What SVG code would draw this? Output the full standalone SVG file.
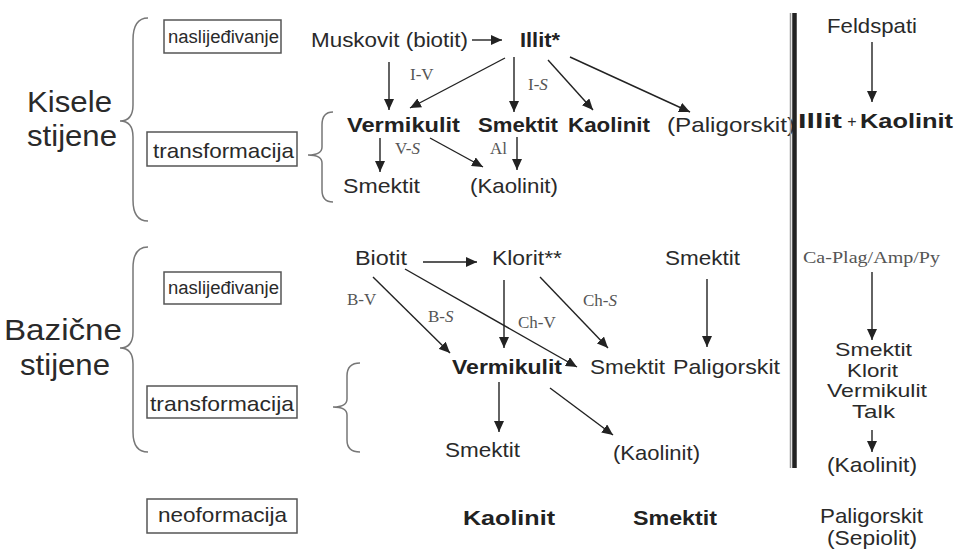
<svg xmlns="http://www.w3.org/2000/svg" width="955" height="551" viewBox="0 0 955 551">
<defs>
<marker id="ah" markerUnits="userSpaceOnUse" markerWidth="11" markerHeight="10" refX="11" refY="5" orient="auto">
<path d="M0,0 L11,5 L0,10 z" fill="#222"/>
</marker>
<style>
.s{font-family:"Liberation Sans",Arial,sans-serif;fill:#2a2a2a}
.b{font-family:"Liberation Sans",Arial,sans-serif;font-weight:bold;fill:#222}
.r{font-family:"Liberation Serif","Times New Roman",serif;fill:#555;font-size:17px}
.big{font-size:29px}
.m{font-size:21px}
.st{font-size:19px}
.box{fill:none;stroke:#555;stroke-width:1.5}
.br{fill:none;stroke:#777;stroke-width:1.5}
.c line{stroke:#222;stroke-width:1.4;marker-end:url(#ah)}
</style>
</defs>
<rect width="955" height="551" fill="#fff"/>

<g id="left-labels">
<text class="s big" x="27" y="112" textLength="85" lengthAdjust="spacingAndGlyphs">Kisele</text>
<text class="s big" x="27" y="146" textLength="90" lengthAdjust="spacingAndGlyphs">stijene</text>
<text class="s big" x="4" y="340" textLength="118" lengthAdjust="spacingAndGlyphs">Bazične</text>
<text class="s big" x="20" y="375" textLength="90" lengthAdjust="spacingAndGlyphs">stijene</text>
<path class="br" d="M148,18 Q133,18 133,40 L133,105 Q133,121 120,121 Q133,121 133,137 L133,200 Q133,221 148,221"/>
<path class="br" d="M148,247 Q133,247 133,268 L133,332 Q133,348 120,348 Q133,348 133,364 L133,432 Q133,452 148,452"/>
<path class="br" d="M333,112 Q322,112 322,125 L322,147 Q322,155 308,155 Q322,155 322,163 L322,190 Q322,202 333,202"/>
<path class="br" d="M360,363 Q347,363 347,376 L347,399 Q347,407 333,407 Q347,407 347,415 L347,440 Q347,452 360,452"/>
</g>

<g id="box-nasl1">
<rect class="box" x="164" y="20" width="117" height="33"/>
<text class="s" font-size="18" x="168" y="43" textLength="111" lengthAdjust="spacingAndGlyphs">naslijeđivanje</text>
</g>
<g id="box-trans1">
<rect class="box" x="147" y="132" width="150" height="34"/>
<text class="s" font-size="21" x="153" y="158" textLength="141" lengthAdjust="spacingAndGlyphs">transformacija</text>
</g>
<g id="box-nasl2">
<rect class="box" x="164" y="272" width="117" height="32"/>
<text class="s" font-size="18" x="168" y="294" textLength="111" lengthAdjust="spacingAndGlyphs">naslijeđivanje</text>
</g>
<g id="box-trans2">
<rect class="box" x="147" y="386" width="150" height="32"/>
<text class="s" font-size="21" x="150" y="411" textLength="144" lengthAdjust="spacingAndGlyphs">transformacija</text>
</g>
<g id="box-neo">
<rect class="box" x="147" y="499" width="150" height="34"/>
<text class="s" font-size="21" x="158" y="522" textLength="129" lengthAdjust="spacingAndGlyphs">neoformacija</text>
</g>

<g id="kisele-nodes">
<text class="s m" x="311" y="47" textLength="157" lengthAdjust="spacingAndGlyphs">Muskovit (biotit)</text>
<text class="b m" x="520" y="47" textLength="40" lengthAdjust="spacingAndGlyphs">Illit*</text>
<text class="b m" x="347" y="132" textLength="113" lengthAdjust="spacingAndGlyphs">Vermikulit</text>
<text class="b m" x="478" y="132" textLength="80" lengthAdjust="spacingAndGlyphs">Smektit</text>
<text class="b m" x="568" y="132" textLength="82" lengthAdjust="spacingAndGlyphs">Kaolinit</text>
<text class="s m" x="667" y="132" textLength="128" lengthAdjust="spacingAndGlyphs">(Paligorskit)</text>
<text class="s m" x="343" y="193" textLength="77" lengthAdjust="spacingAndGlyphs">Smektit</text>
<text class="s m" x="470" y="193" textLength="88" lengthAdjust="spacingAndGlyphs">(Kaolinit)</text>
<text class="r" x="410" y="80">I-V</text>
<text class="r" x="528" y="90">I-<tspan font-style="italic">S</tspan></text>
<text class="r" x="395" y="154">V-<tspan font-style="italic">S</tspan></text>
<text class="r" x="490" y="154">Al</text>
</g>

<g id="bazicne-nodes">
<text class="s m" x="355" y="265" textLength="52" lengthAdjust="spacingAndGlyphs">Biotit</text>
<text class="s m" x="492" y="265" textLength="70" lengthAdjust="spacingAndGlyphs">Klorit**</text>
<text class="s m" x="665" y="265" textLength="75" lengthAdjust="spacingAndGlyphs">Smektit</text>
<text class="b m" x="452" y="374" textLength="110" lengthAdjust="spacingAndGlyphs">Vermikulit</text>
<text class="s m" x="590" y="374" textLength="75" lengthAdjust="spacingAndGlyphs">Smektit</text>
<text class="s m" x="673" y="374" textLength="107" lengthAdjust="spacingAndGlyphs">Paligorskit</text>
<text class="s m" x="445" y="457" textLength="75" lengthAdjust="spacingAndGlyphs">Smektit</text>
<text class="s m" x="613" y="460" textLength="87" lengthAdjust="spacingAndGlyphs">(Kaolinit)</text>
<text class="r" x="347" y="305">B-V</text>
<text class="r" x="428" y="322">B-<tspan font-style="italic">S</tspan></text>
<text class="r" x="518" y="328">Ch-V</text>
<text class="r" x="583" y="306">Ch-<tspan font-style="italic">S</tspan></text>
</g>

<g id="neo-nodes">
<text class="b m" x="463" y="525" textLength="92" lengthAdjust="spacingAndGlyphs">Kaolinit</text>
<text class="b m" x="633" y="525" textLength="84" lengthAdjust="spacingAndGlyphs">Smektit</text>
</g>

<g id="right-column">
<line x1="790.5" y1="13" x2="790.5" y2="468" stroke="#999" stroke-width="1.5"/>
<line x1="794.5" y1="13" x2="794.5" y2="468" stroke="#222" stroke-width="4.5"/>
<text class="s m" x="827" y="33" textLength="90" lengthAdjust="spacingAndGlyphs">Feldspati</text>
<text class="b m" x="798" y="128" textLength="44" lengthAdjust="spacingAndGlyphs">Illit</text>
<text class="s" font-size="16" x="852" y="127" text-anchor="middle">+</text>
<text class="b m" x="860" y="128" textLength="93" lengthAdjust="spacingAndGlyphs">Kaolinit</text>
<text class="r" x="803" y="263" textLength="137" lengthAdjust="spacingAndGlyphs">Ca-Plag/Amp/Py</text>
<text class="s st" x="835" y="356" textLength="77" lengthAdjust="spacingAndGlyphs">Smektit</text>
<text class="s st" x="847" y="377" textLength="51" lengthAdjust="spacingAndGlyphs">Klorit</text>
<text class="s st" x="827" y="397" textLength="100" lengthAdjust="spacingAndGlyphs">Vermikulit</text>
<text class="s st" x="852" y="418" textLength="43" lengthAdjust="spacingAndGlyphs">Talk</text>
<text class="s m" x="827" y="472" textLength="90" lengthAdjust="spacingAndGlyphs">(Kaolinit)</text>
<text class="s m" x="820" y="523" textLength="103" lengthAdjust="spacingAndGlyphs">Paligorskit</text>
<text class="s m" x="827" y="545" textLength="90" lengthAdjust="spacingAndGlyphs">(Sepiolit)</text>
</g>

<g id="connectors" class="c">
<line x1="472" y1="40" x2="502" y2="40"/>
<line x1="389" y1="62" x2="389" y2="110"/>
<line x1="505" y1="58" x2="410" y2="108"/>
<line x1="514" y1="57" x2="514" y2="112"/>
<line x1="548" y1="60" x2="593" y2="110"/>
<line x1="570" y1="57" x2="690" y2="112"/>
<line x1="380" y1="138" x2="380" y2="172"/>
<line x1="430" y1="138" x2="483" y2="167"/>
<line x1="517" y1="137" x2="517" y2="170"/>
<line x1="423" y1="262" x2="477" y2="262"/>
<line x1="373" y1="277" x2="450" y2="353"/>
<line x1="405" y1="269" x2="577" y2="367"/>
<line x1="504" y1="280" x2="504" y2="348"/>
<line x1="540" y1="277" x2="608" y2="348"/>
<line x1="707" y1="279" x2="707" y2="347"/>
<line x1="499" y1="382" x2="499" y2="432"/>
<line x1="550" y1="388" x2="613" y2="435"/>
<line x1="872" y1="42" x2="872" y2="102"/>
<line x1="872" y1="272" x2="872" y2="340"/>
<line x1="872" y1="430" x2="872" y2="452"/>
</g>
</svg>
